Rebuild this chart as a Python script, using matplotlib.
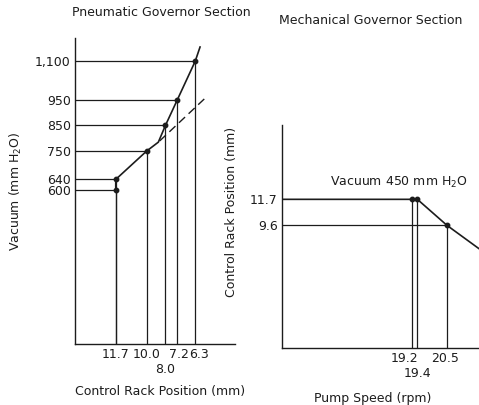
"""
Governor characteristic: pneumatic section (vacuum vs. control rack position)
and mechanical section (control rack position vs. pump speed).
"""
import numpy as np
import matplotlib
matplotlib.use("Agg")
import matplotlib.pyplot as plt
from matplotlib.transforms import ScaledTranslation

plt.rcParams["font.family"] = ["DejaVu Sans"]
plt.rcParams["font.size"] = 9

INK = "#1c1c1c"

# ---------------------------------------------------------------------------
# Data
# ---------------------------------------------------------------------------

# pneumatic section: marked points (rack mm, vacuum mm H2O)
pn_rack = [11.7, 11.7, 10.0, 8.0, 7.2, 6.3]
pn_vacuum = [600, 640, 750, 850, 950, 1100]

# full pneumatic curve incl. the break between 10.0 and 8.0 and the run-out
pn_curve_rack = [11.7, 11.7, 10.0, 8.75, 8.0, 7.2, 6.3, 5.95]
pn_curve_vac = [600, 640, 750, 785, 850, 950, 1100, 1155]

# extension of the lower slope beyond the break
pn_dash_rack = [8.6, 5.6]
pn_dash_vac = [790, 955]

pn_xticks = [11.7, 10.0, 8.0, 7.2, 6.3]
pn_xticklabels = ["11.7", "10.0", "\n8.0", "7.2", "6.3"]
pn_yticks = [600, 640, 750, 850, 950, 1100]
pn_yticklabels = ["600", "640", "750", "850", "950", "1,100"]

# mechanical section at 450 mm H2O vacuum: (pump speed, rack mm)
mg_speed = [19.2, 19.4, 20.5]
mg_rack = [11.7, 11.7, 9.6]
mg_curve_speed = [14.37, 19.2, 19.4, 20.5, 21.7]
mg_curve_rack = [11.7, 11.7, 11.7, 9.6, 7.7]

mg_xticks = [19.2, 19.4, 20.5]
mg_xticklabels = ["19.2", "\n19.4", "20.5"]
mg_yticks = [11.7, 9.6]
mg_yticklabels = ["11.7", "9.6"]

# schematic (non-uniform) spacing of the rack-position axis
rack_knots = [3.4, 6.3, 7.2, 8.0, 10.0, 11.7, 14.6]
rack_spacing = [-161, -121, -103, -91, -72, -41, 0]


def rack_fwd(v):
    return np.interp(v, rack_knots, rack_spacing)


def rack_inv(p):
    return np.interp(p, rack_spacing, rack_knots)


def strip(ax):
    for side in ("top", "right"):
        ax.spines[side].set_visible(False)
    for side in ("left", "bottom"):
        ax.spines[side].set_color(INK)
        ax.spines[side].set_linewidth(1.0)
    ax.tick_params(length=0, pad=3, colors=INK, labelsize=9)
    ax.set_facecolor("none")


def nudge(labels, shifts):
    for lab, dx in zip(labels, shifts):
        lab.set_transform(lab.get_transform()
                          + ScaledTranslation(dx / 100, 0, fig.dpi_scale_trans))


fig = plt.figure(figsize=(4.79, 4.05), dpi=100)

# ---------------------------------------------------------------------------
# Pneumatic governor section
# ---------------------------------------------------------------------------
ax1 = fig.add_axes([75 / 479, 1 - 344 / 405, (235 - 75) / 479, (344 - 38) / 405])
ax1.set_xscale("function", functions=(rack_fwd, rack_inv))
ax1.set_xlim(14.6, 3.4)
ax1.set_ylim(0, 1190)
strip(ax1)

for r, v in zip(pn_rack, pn_vacuum):
    ax1.plot([14.6, r], [v, v], color=INK, lw=0.9)
    ax1.plot([r, r], [0, v], color=INK, lw=0.9)

ax1.plot(pn_curve_rack, pn_curve_vac, color=INK, lw=1.2)
ax1.plot(pn_dash_rack, pn_dash_vac, color=INK, lw=1.0, ls=(0, (6, 3.5)))
ax1.plot(pn_rack, pn_vacuum, "o", color=INK, ms=3.2)

ax1.set_xticks(pn_xticks)
ax1.set_xticklabels(pn_xticklabels, va="top")
ax1.set_yticks(pn_yticks)
ax1.set_yticklabels(pn_yticklabels)
nudge(ax1.get_xticklabels(), [0, 0, 0, 2, 4])

ax1.set_xlabel("Control Rack Position (mm)", color=INK)
ax1.xaxis.set_label_coords(0.53, -0.134)
ax1.set_ylabel("Vacuum (mm H$_2$O)", color=INK)
ax1.yaxis.set_label_coords(-0.32, 0.5)

fig.text(161 / 479, 1 - 13 / 405, "Pneumatic Governor Section",
         ha="center", va="center", fontsize=9, color=INK)

# ---------------------------------------------------------------------------
# Mechanical governor section
# ---------------------------------------------------------------------------
ax2 = fig.add_axes([282 / 479, 1 - 348 / 405, (479 - 282) / 479, (348 - 125) / 405])
ax2.set_xlim(14.37, 21.69)
ax2.set_ylim(-0.3, 17.7)
strip(ax2)

for s, r in zip(mg_speed, mg_rack):
    ax2.plot([s, s], [-0.3, r], color=INK, lw=0.9)
ax2.plot([14.37, mg_speed[2]], [mg_rack[2], mg_rack[2]], color=INK, lw=0.9)
ax2.plot(mg_curve_speed, mg_curve_rack, color=INK, lw=1.2)
ax2.plot(mg_speed, mg_rack, "o", color=INK, ms=3.2)

ax2.set_xticks(mg_xticks)
ax2.set_xticklabels(mg_xticklabels, va="top")
ax2.set_yticks(mg_yticks)
ax2.set_yticklabels(mg_yticklabels)
nudge(ax2.get_xticklabels(), [-8, 0, -2])

ax2.text(330 / 479, 1 - 182 / 405, "Vacuum 450 mm H$_2$O", transform=fig.transFigure,
         ha="left", va="center", fontsize=9, color=INK)

ax2.set_xlabel("Pump Speed (rpm)", color=INK)
ax2.xaxis.set_label_coords(0.46, -0.197)
ax2.set_ylabel("Control Rack Position (mm)", color=INK)
ax2.yaxis.set_label_coords(-0.223, 0.61)

fig.text(371 / 479, 1 - 21 / 405, "Mechanical Governor Section",
         ha="center", va="center", fontsize=9, color=INK)

fig.savefig("out.png", dpi=100, facecolor="white")
